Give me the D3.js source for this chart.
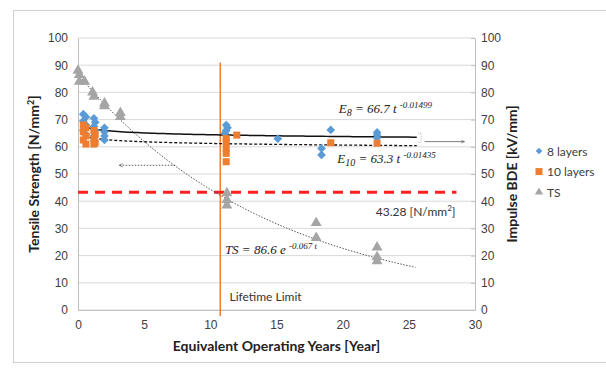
<!DOCTYPE html>
<html>
<head>
<meta charset="utf-8">
<script src="https://cdn.jsdelivr.net/npm/d3@7"></script>
<style>
  body { margin: 0; background: #fff; }
  svg { font-family: Lato, "Open Sans", sans-serif; }
  .eq { font-family: "Liberation Serif", "DejaVu Serif", serif; font-style: italic; }
</style>
</head>
<body>
<script>
// chart size
var svgWidth = 606;
var svgHeight = 374;
var margin = { top: 38, right: 131, bottom: 64, left: 78 };
var width = svgWidth - margin.left - margin.right;
var height = svgHeight - margin.top - margin.bottom;

// data: [years, value]
var layers8 = [
  [0.4, 72], [0.6, 71], [0.4, 69.5], [0.6, 68], [0.4, 66], [0.6, 64.5],
  [1.2, 70.5], [1.3, 69], [1.2, 67.5], [1.3, 66], [1.2, 64],
  [2, 67], [2, 65.5], [2, 64], [2, 62.5],
  [11.2, 68], [11.3, 67], [11.2, 66], [11.1, 65],
  [15.1, 63], [18.4, 59.4], [18.4, 57], [19.1, 66.2],
  [22.6, 65.3], [22.6, 64.3], [22.6, 63.3]
];
var layers10 = [
  [0.4, 68], [0.6, 67], [0.4, 65.5], [0.6, 64], [0.4, 62.5], [0.6, 61],
  [1.2, 66], [1.3, 64.5], [1.2, 63], [1.3, 61.5], [1.2, 61],
  [11.2, 63], [11.2, 61.9], [11.2, 59.4], [11.2, 57.6], [11.2, 54.5],
  [12, 64.3], [19.1, 61.5], [22.6, 61.3]
];
var tsData = [
  [0, 88], [0.1, 86.5], [0.1, 84], [0.5, 84], [1.1, 80], [1.2, 78.5],
  [2, 76], [2, 75], [3.2, 72.5], [3.2, 71],
  [11.25, 43], [11.25, 40.5], [11.25, 38.5],
  [18, 32], [18, 26.5],
  [22.6, 23], [22.6, 19.5], [22.6, 18]
];
var xTicks = [0, 5, 10, 15, 20, 25, 30];
var yTicks = [0, 10, 20, 30, 40, 50, 60, 70, 80, 90, 100];
var lifetimeYear = 10.75;
var limitTS = 43.28;

// fitted curves
var fitE8 = t => 66.7 * Math.pow(t, -0.01499);
var fitE10 = t => 63.3 * Math.pow(t, -0.01435);
var fitTS = t => 86.6 * Math.exp(-0.067 * t);

var svg = d3.select("body").append("svg")
  .attr("width", svgWidth)
  .attr("height", svgHeight);

// outer frame
svg.append("rect")
  .attr("x", 13.5).attr("y", 10.5)
  .attr("width", 600).attr("height", 352)
  .attr("fill", "none").attr("stroke", "#d0d0d0");

var chartGroup = svg.append("g")
  .attr("transform", `translate(${margin.left}, ${margin.top})`);

var x = d3.scaleLinear().domain([0, 30]).range([0, width]);
var y = d3.scaleLinear().domain([0, 100]).range([height, 0]);

// gridlines
chartGroup.selectAll(".grid")
  .data(yTicks)
  .enter()
  .append("line")
  .attr("x1", 0).attr("x2", width)
  .attr("y1", d => y(d)).attr("y2", d => y(d))
  .attr("stroke", "#d9d9d9");

// axes
var bottomAxis = d3.axisBottom(x).tickValues(xTicks).tickSize(0).tickPadding(10);
var leftAxis = d3.axisLeft(y).tickValues(yTicks).tickSize(0).tickPadding(10);
var rightAxis = d3.axisRight(y).tickValues(yTicks).tickSize(0).tickPadding(6);

var gx = chartGroup.append("g").attr("transform", `translate(0, ${height})`).call(bottomAxis);
var gl = chartGroup.append("g").call(leftAxis);
var gr = chartGroup.append("g").attr("transform", `translate(${width}, 0)`).call(rightAxis);
[gx, gl, gr].forEach(function(g) {
  g.select(".domain").attr("stroke", "#bfbfbf");
  g.selectAll("text").attr("fill", "#404040").style("font-size", "12px");
});
// short inward ticks on the right axis
gr.selectAll(".tick").append("line").attr("x1", -4).attr("x2", 0).attr("stroke", "#bfbfbf");

// lifetime limit
chartGroup.append("line")
  .attr("x1", x(lifetimeYear)).attr("x2", x(lifetimeYear))
  .attr("y1", y(91)).attr("y2", height + 6)
  .attr("stroke", "#ED7D31").attr("stroke-width", 1.5);

// 43.28 limit
chartGroup.append("line")
  .attr("x1", x(0)).attr("x2", x(28.6))
  .attr("y1", y(limitTS)).attr("y2", y(limitTS))
  .attr("stroke", "#FF1F1F").attr("stroke-width", 3)
  .attr("stroke-dasharray", "10,7");

// fitted curves
var tsRange = d3.range(0, 25.5, 0.25).concat([25.5]);
var eRange = d3.range(0.5, 25.6, 0.25).concat([25.6]);
var line = fn => d3.line().x(d => x(d)).y(d => y(fn(d)));

chartGroup.append("path").datum(tsRange)
  .attr("d", line(fitTS))
  .attr("fill", "none").attr("stroke", "#555").attr("stroke-width", 1)
  .attr("stroke-dasharray", "1.5,1.5");

chartGroup.append("path").datum(eRange)
  .attr("d", line(fitE8))
  .attr("fill", "none").attr("stroke", "#111").attr("stroke-width", 1.5);

chartGroup.append("path").datum(eRange)
  .attr("d", line(fitE10))
  .attr("fill", "none").attr("stroke", "#111").attr("stroke-width", 1.3)
  .attr("stroke-dasharray", "3,2");

// small bracket and arrows
svg.append("defs").append("marker")
  .attr("id", "arr").attr("viewBox", "0 0 10 10")
  .attr("refX", 9).attr("refY", 5)
  .attr("markerWidth", 6).attr("markerHeight", 6)
  .attr("orient", "auto-start-reverse")
  .append("path").attr("d", "M0,1 L9,5 L0,9").attr("fill", "none").attr("stroke", "#333");

chartGroup.append("path")
  .attr("d", `M${x(25.7)},${y(65)} h3 v${y(61.6) - y(65)} h-3`)
  .attr("fill", "none").attr("stroke", "#bbb").attr("stroke-dasharray", "1,1");

chartGroup.append("line")
  .attr("x1", x(26.2)).attr("x2", x(29.2))
  .attr("y1", y(61.9)).attr("y2", y(61.9))
  .attr("stroke", "#444").attr("stroke-width", 0.7)
  .attr("marker-end", "url(#arr)");

chartGroup.append("line")
  .attr("x1", x(7.35)).attr("x2", x(3.1))
  .attr("y1", y(53.2)).attr("y2", y(53.2))
  .attr("stroke", "#333").attr("stroke-width", 0.8)
  .attr("stroke-dasharray", "1.5,1.5")
  .attr("marker-end", "url(#arr)");

// markers
var diamond = d3.symbol().type(d3.symbolSquare).size(38);
chartGroup.selectAll(".d8")
  .data(layers8)
  .enter()
  .append("path")
  .attr("d", diamond)
  .attr("transform", d => `translate(${x(d[0])}, ${y(d[1])}) rotate(45)`)
  .attr("fill", "#5B9BD5");

chartGroup.selectAll(".d10")
  .data(layers10)
  .enter()
  .append("rect")
  .attr("x", d => x(d[0]) - 3.5).attr("y", d => y(d[1]) - 3.5)
  .attr("width", 7).attr("height", 7)
  .attr("fill", "#ED7D31");

var tri = d3.symbol().type(d3.symbolTriangle).size(52);
chartGroup.selectAll(".ts")
  .data(tsData)
  .enter()
  .append("path")
  .attr("d", tri)
  .attr("transform", d => `translate(${x(d[0])}, ${y(d[1])})`)
  .attr("fill", "#A5A5A5");

// equations
function eq(xv, yv, main, sub, rest, sup) {
  var t = chartGroup.append("text").attr("class", "eq")
    .attr("x", x(xv)).attr("y", y(yv))
    .attr("fill", "#222").style("font-size", "13px");
  t.append("tspan").text(main);
  if (sub) t.append("tspan").attr("dy", 3).style("font-size", "10px").text(sub);
  t.append("tspan").attr("dy", sub ? -3 : 0).text(rest);
  t.append("tspan").attr("dy", -5).style("font-size", "9px").text(sup);
}
eq(19.7, 72.3, "E", "8", " = 66.7 t ", "-0.01499");
eq(19.6, 54, "E", "10", " = 63.3 t ", "-0.01435");
eq(11.1, 20.6, "TS = 86.6 e ", null, "", "-0.067 t");

chartGroup.append("text")
  .attr("x", x(22.5)).attr("y", y(34.5))
  .attr("fill", "#333").style("font-size", "12px")
  .html("43.28 [N/mm<tspan dy='-5' font-size='8px'>2</tspan><tspan dy='5'>]</tspan>");

chartGroup.append("text")
  .attr("x", x(11.45)).attr("y", y(3.2))
  .attr("fill", "#333").style("font-size", "12px")
  .text("Lifetime Limit");

// axis titles
chartGroup.append("text")
  .attr("transform", "rotate(-90)")
  .attr("x", -y(50)).attr("y", -39)
  .attr("text-anchor", "middle")
  .style("font-size", "14px").style("font-weight", "bold").attr("fill", "#222")
  .html("Tensile Strength [N/mm<tspan dy='-5' font-size='9px'>2</tspan><tspan dy='5'>]</tspan>");

chartGroup.append("text")
  .attr("transform", "rotate(-90)")
  .attr("x", -y(50)).attr("y", width + 42)
  .attr("text-anchor", "middle")
  .style("font-size", "14px").style("font-weight", "bold").attr("fill", "#222")
  .text("Impulse BDE [kV/mm]");

chartGroup.append("text")
  .attr("x", width / 2).attr("y", height + 41)
  .attr("text-anchor", "middle")
  .style("font-size", "14px").style("font-weight", "bold").attr("fill", "#222")
  .text("Equivalent Operating Years [Year]");

// legend
var legendItems = [
  { name: "8 layers", color: "#5B9BD5", shape: "d" },
  { name: "10 layers", color: "#ED7D31", shape: "s" },
  { name: "TS", color: "#A5A5A5", shape: "t" }
];
var legend = svg.append("g").attr("transform", "translate(539, 151)");
legendItems.forEach(function(item, i) {
  var g = legend.append("g").attr("transform", `translate(0, ${i * 20.6})`);
  if (item.shape === "d") {
    g.append("path").attr("d", d3.symbol().type(d3.symbolSquare).size(22)).attr("transform", "rotate(45)").attr("fill", item.color);
  } else if (item.shape === "s") {
    g.append("rect").attr("x", -3.5).attr("y", -3.5).attr("width", 7).attr("height", 7).attr("fill", item.color);
  } else {
    g.append("path").attr("d", d3.symbol().type(d3.symbolTriangle).size(30)).attr("fill", item.color);
  }
  g.append("text").attr("x", 8).attr("y", 4.5)
    .style("font-size", "12px").attr("fill", "#404040").text(item.name);
});
</script>
</body>
</html>
